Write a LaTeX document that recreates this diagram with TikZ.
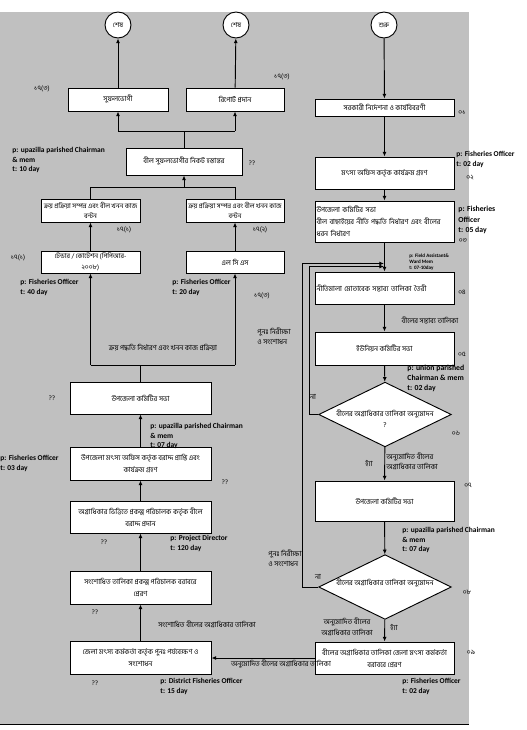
\documentclass[tikz,border=0pt]{standalone}
\usepackage{fontspec}
\setmainfont{Carlito}
\newfontfamily\bn[Script=Bengali]{Hind Siliguri}
\usetikzlibrary{arrows.meta,shapes.geometric}
\definecolor{bggray}{RGB}{192,192,192}
\begin{document}
\begin{tikzpicture}[x=0.75pt,y=-0.75pt,
  line width=0.7pt,
  arr/.style={-{Latex[length=3.5pt,width=3pt]}},
  box/.style={draw,fill=white,inner sep=1pt,align=center,font=\bn\fontsize{5.3}{9}\selectfont},
  lbox/.style={box,minimum width=105.75pt},
  rbox/.style={box,minimum width=104.25pt},
  term/.style={draw,fill=white,circle,minimum size=19.5pt,inner sep=0pt,font=\bn\fontsize{5}{6}\selectfont},
  dec/.style={draw,fill=white,diamond,minimum width=99.5pt,minimum height=48.5pt,inner sep=0pt},
  bnt/.style={inner sep=0pt,align=center,font=\bn\fontsize{5.3}{8}\selectfont},
  bnl/.style={inner sep=0pt,align=left,anchor=north west,font=\bn\fontsize{5.3}{7.5}\selectfont},
  en/.style={inner sep=0pt,align=left,anchor=north west,font=\bfseries\fontsize{5.6}{7}\selectfont},
  num/.style={inner sep=0pt,font=\bn\fontsize{5}{6}\selectfont},
]
\useasboundingbox (0,0) rectangle (527,730);
\fill[bggray] (0,12) rectangle (469,724);
\draw[line width=0.9pt] (0,724.5) -- (469,724.5);

% terminals
\node[term] (end1) at (118,25) {শেষ};
\node[term] (end2) at (236,25) {শেষ};
\node[term] (start) at (384,25) {শুরু};

% left column boxes
\node[box,minimum width=75pt,minimum height=17.25pt] (sufal) at (118,99.5) {সুফলভোগী};
\node[box,minimum width=73.5pt,minimum height=17.25pt] (report) at (235,99.5) {রিপোর্ট প্রদান};
\node[box,minimum width=87pt,minimum height=20.25pt] (hand) at (184,161.5) {বীল সুফলভোগীর নিকট হস্তান্তর};
\node[box,minimum width=74.25pt,minimum height=17.25pt,font=\bn\fontsize{5}{8}\selectfont] (kroyL) at (90.5,210.5) {ক্রয় প্রক্রিয়া সম্পন্ন এবং বীল খনন কাজ\\বন্টন};
\node[box,minimum width=73.5pt,minimum height=17.25pt,font=\bn\fontsize{5}{8}\selectfont] (kroyR) at (235,210.5) {ক্রয় প্রক্রিয়া সম্পন্ন এবং বীল খনন কাজ\\বন্টন};
\node[box,minimum width=74.25pt,minimum height=16.5pt,font=\bn\fontsize{5}{8}\selectfont] (tender) at (90.5,262) {টেন্ডার / কোটেশন (পিপিআর-\\২০০৮)};
\node[box,minimum width=73.5pt,minimum height=16.5pt] (lcs) at (235,262) {এল সি এস};
\node[lbox,minimum height=24pt] (upcom) at (140.5,398) {উপজেলা কমিটির সভা};
\node[lbox,minimum height=24.75pt] (upfish) at (140.5,463.5) {উপজেলা মৎস্য অফিস কর্তৃক বরাদ্দ প্রাপ্তি এবং\\কার্যক্রম গ্রহণ};
\node[lbox,minimum height=24pt] (prio) at (140.5,517) {অগ্রাধিকার ভিত্তিতে প্রকল্প পরিচালক কর্তৃক বীলে\\বরাদ্দ প্রদান};
\node[lbox,minimum height=24.75pt] (revis) at (140.5,587.5) {সংশোধিত তালিকা প্রকল্প পরিচালক বরাবরে\\প্রেরণ};
\node[lbox,minimum height=24.75pt] (dist) at (140.5,657.5) {জেলা মৎস্য কর্মকর্তা কর্তৃক পুনঃ পর্যবেক্ষণ ও\\সংশোধন};

% right column
\node[rbox,minimum height=12.75pt] (b01) at (384.5,107.5) {সরকারী নির্দেশনা ও কার্যবিবরণী};
\node[rbox,minimum height=24pt] (b02) at (384.5,173) {মৎস্য অফিস কর্তৃক কার্যক্রম গ্রহণ};
\node[rbox,minimum height=30.75pt,align=left,text width=102pt] (b03) at (384.5,221.5) {উপজেলা কমিটির সভা\\বীল বাছাইয়ের নীতি পদ্ধতি নির্ধারণ এবং বীলের\\ধরন নির্ধারণ};
\node[rbox,minimum height=24pt,align=left,text width=102pt] (b04) at (384.5,288) {নীতিমালা মোতাবেক সম্ভাব্য তালিকা তৈরী};
\node[rbox,minimum height=24.75pt] (b05) at (384.5,348.5) {ইউনিয়ন কমিটির সভা};
\node[dec] (d06) at (385,414.5) {};
\node[bnt] at (385,419) {বীলের অগ্রাধিকার তালিকা অনুমোদন\\?};
\node[rbox,minimum height=30pt] (b07) at (384.5,501) {উপজেলা কমিটির সভা};
\node[dec] (d08) at (385,587) {};
\node[bnt] at (385,583) {বীলের অগ্রাধিকার তালিকা অনুমোদন};
\node[rbox,minimum height=24pt] (b09) at (384.5,658) {বীলের অগ্রাধিকার তালিকা জেলা মৎস্য কর্মকর্তা\\বরাবরে প্রেরণ};

% helper coordinates
\coordinate (j1) at (184,131);
\coordinate (j1l) at (118,131);
\coordinate (j1r) at (235,131);
\coordinate (j2) at (184,187);
\coordinate (j2l) at (90.5,187);
\coordinate (j2r) at (235,187);
\coordinate (j3) at (140.5,365);
\coordinate (j3l) at (90.5,365);
\coordinate (j3r) at (235,365);
\coordinate (m1) at (384,263.5);
\coordinate (m2) at (384,266.5);
\coordinate (o1) at (302,587);
\coordinate (o2) at (302,263.5);
\coordinate (i1) at (309,414.5);
\coordinate (i2) at (309,266.5);

% connectors right column
\draw[arr] (start) -- (b01);
\draw[arr] (b01) -- (b02);
\draw[arr] (b02) -- (b03);
\draw[arr] (b03) -- (b04);
\draw[arr] (b04) -- (b05);
\draw[arr] (b05) -- (d06);
\draw[arr] (d06) -- (b07);
\draw[arr] (b07) -- (d08);
\draw[arr] (d08) -- (b09);
\draw[arr] (d06.west) -- (i1) -- (i2) -- (m2);
\draw[arr] (d08.west) -- (o1) -- (o2) -- (m1);
\draw[arr] (b09.west) -- (dist.east |- b09.west);

% connectors left column
\draw[arr] (dist) -- (revis);
\draw[arr] (revis) -- (prio);
\draw[arr] (prio) -- (upfish);
\draw[arr] (upfish) -- (upcom);
\draw (upcom.north) -- (j3);
\draw (j3l) -- (j3r);
\draw[arr] (j3l) -- (tender.south);
\draw[arr] (j3r) -- (lcs.south);
\draw[arr] (tender) -- (kroyL);
\draw[arr] (lcs) -- (kroyR);
\draw (kroyL.north) -- (j2l) -- (j2r) -- (kroyR.north);
\draw[arr] (j2) -- (hand.south);
\draw (hand.north) -- (j1);
\draw (j1l) -- (j1r);
\draw[arr] (j1l) -- (sufal.south);
\draw[arr] (j1r) -- (report.south);
\draw[arr] (sufal) -- (end1);
\draw[arr] (report) -- (end2);

% labels left
\node[num] (n1) at (42,89) {১৭(৩)};
\node[num] (n2) at (282,77) {১৭(৩)};
\node[en] (p1) at (12,147) {p: upazilla parished Chairman\\ \& mem\\t: 10 day};
\node[num] (q1) at (252,163) {??};
\node[num] (n3) at (124,230) {১৭(১)};
\node[num] (n4) at (260,230) {১৭(২)};
\node[num] (n5) at (18,258) {১৭(১)};
\node[en] (p2) at (20,279) {p: Fisheries Officer\\t: 40 day};
\node[en] (p3) at (172,279) {p: Fisheries Officer\\t: 20 day};
\node[num] (n6) at (262,296) {১৭(৩)};
\node[bnl] (r1) at (257,327) {পুনঃ নিরীক্ষা\\ ও সংশোধন};
\node[bnt] (kp) at (163,348) {ক্রয় পদ্ধতি নির্ধারণ এবং খনন কাজ প্রক্রিয়া};
\node[num] (q2) at (52,398) {??};
\node[en] (p4) at (150,423) {p: upazilla parished Chairman\\ \& mem\\t: 07 day};
\node[en] (p5) at (0,455) {p: Fisheries Officer\\t: 03 day};
\node[num] (q3) at (225,482) {??};
\node[num] (q4) at (104,542) {??};
\node[en] (p6) at (170,535) {p: Project Director\\t: 120 day};
\node[num] (q5) at (95,612) {??};
\node[bnt] (l1) at (207,624) {সংশোধিত বীলের অগ্রাধিকার তালিকা};
\node[num] (q6) at (95,683) {??};
\node[en] (p7) at (160,678) {p: District Fisheries Officer\\t: 15 day};
\node[bnt] (l2) at (281,664) {অনুমোদিত বীলের অগ্রাধিকার তালিকা};

% labels right
\node[num] (k1) at (462,113) {০১};
\node[en] (p8) at (456,151) {p: Fisheries Officer\\t: 02 day};
\node[num] (k2) at (470,178) {০২};
\node[en,font=\bfseries\fontsize{5.8}{7.7}\selectfont] (p9) at (458,206) {p: Fisheries\\Officer\\t: 05 day};
\node[num] (k3) at (463,241) {০৩};
\node[en,font=\bfseries\fontsize{3.8}{4.6}\selectfont] (p10) at (409,253) {p: Field Assistant\&\\Ward Mem\\t: 07-10day};
\node[num] (k4) at (462,292) {০৪};
\node[bnt] (l3) at (430,320) {বীলের সম্ভাব্য তালিকা};
\node[num] (k5) at (462,354) {০৫};
\node[en,font=\bfseries\fontsize{5.8}{7.3}\selectfont] (p11) at (407,365) {p: union parished\\Chairman \& mem\\t: 02 day};
\node[bnt] (no1) at (313,397) {না};
\node[num] (k6) at (456,433) {০৬};
\node[bnt] (y1) at (369,463) {হ্যাঁ};
\node[bnl] (l4) at (386,452) {অনুমোদিত বীলের\\অগ্রাধিকার তালিকা};
\node[num] (k7) at (468,485) {০৭};
\node[en] (p12) at (402,527) {p: upazilla parished Chairman\\ \& mem\\t: 07 day};
\node[bnl] (r2) at (268,549) {পুনঃ নিরীক্ষা\\ ও সংশোধন};
\node[bnt] (no2) at (318,577) {না};
\node[num] (k8) at (467,592) {০৮};
\node[bnt,align=center] (l5) at (347,627) {অনুমোদিত বীলের\\অগ্রাধিকার তালিকা};
\node[bnt] (y2) at (394,627) {হ্যাঁ};
\node[num] (k9) at (471,652) {০৯};
\node[en] (p13) at (402,678) {p: Fisheries Officer\\t: 02 day};
\end{tikzpicture}
\end{document}
